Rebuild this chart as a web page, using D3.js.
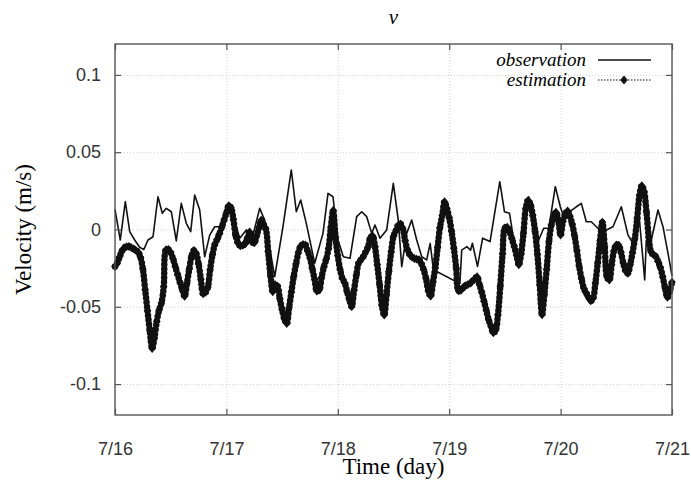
<!DOCTYPE html>
<html>
<head>
  <meta charset="utf-8">
  <title>v</title>
  <script src="https://d3js.org/d3.v7.min.js"></script>
  <style>
    body { margin: 0; background: white; }
  </style>
</head>
<body>
<div id="output"></div>

<script type="text/javascript">

  // x ticks (hours since 7/16 00:00) and their labels
  var xTicks = [0, 24, 48, 72, 96, 120];
  var xTickLabels = ["7/16", "7/17", "7/18", "7/19", "7/20", "7/21"];
  var yTicks = [-0.1, -0.05, 0, 0.05, 0.1];
  var yTickLabels = ["-0.1", "-0.05", "0", "0.05", "0.1"];

  // observation, irregular samples (hours, m/s)
  var obsHour = [0, 1.14, 2.22, 3.17, 4.24, 5.32, 6.2, 7.11, 8.19, 9.26,
    10.19, 11.05, 12.13, 13.2, 14.28, 15.36, 16.31, 17.17, 18.25, 19.32,
    20.4, 21.48, 22.56, 23.63, 24.71, 25.79, 26.87, 28.29, 29.73, 31.17,
    32.25, 34.41, 36.19, 37.98, 39.06, 40.01, 41.21, 43.02, 44.81, 45.89,
    46.96, 48.04, 49.19, 50.63, 52.07, 53.15, 54.23, 55.3, 56.01, 57.09,
    58.53, 59.96, 61.03, 61.77, 62.84, 63.92, 65, 66.08, 67.15, 67.9,
    68.6, 74.3, 74.7, 75.8, 76.6, 77.0, 78.1,
    79.2, 80.8, 82.9, 83.9, 85, 85.9, 86.97, 88.05, 89.13, 90.2,
    91.28, 92.36, 93.44, 94.86, 95.94, 96.67, 97.96, 99.39, 100.47, 101.54,
    102.62, 103.7, 104.77, 105.85, 107.29, 109.08, 110.52, 111.6, 112.68, 114.12,
    114.46, 115.54, 116.98, 118.06, 119.14, 120];
  var obsV = [0.013, -0.0068, 0.018, -0.0014, -0.0068, -0.0115, -0.013, -0.0068, -0.0047, 0.0212,
    0.0105, 0.0137, 0.0115, -0.0074, 0.0169, 0.004, -0.0014, 0.0223, 0.0126, -0.0176,
    -0.0036, 0.0018, 0.0018, 0.0105, 0.0169, 0.005, -0.0057, -0.0003, -0.0036, 0.0137,
    0.0061, -0.0305, 0.0018, 0.0385, 0.0115, 0.0191, 0.004, -0.0218, -0.0025, 0.0234,
    0.0212, -0.0068, -0.0176, -0.0186, 0.0083, 0.0115, 0.0083, -0.0025, 0.0029, -0.0057,
    -0.0003, 0.0299, 0.0061, -0.024, -0.0025, 0.0061, -0.0068, -0.0176, -0.0197, -0.009,
    -0.026, -0.035, -0.0134, -0.0111, -0.0134, -0.0089, -0.0239,
    -0.0056, -0.0078, 0.0309, 0.0115, 0.0105, -0.0068, -0.0218, -0.0003, 0.0212, 0.0126,
    -0.0068, 0.0008, 0.0008, 0.0277, 0.0147, 0.0083, 0.0115, 0.0147, 0.0169, 0.005,
    0.005, 0.0018, -0.0014, -0.0003, 0.0018, 0.0147, -0.0036, -0.0089, 0.0169, -0.0326,
    -0.0068, -0.0068, 0.0126, 0.0018, -0.0154, -0.03];

  // estimation, every 30 min from 7/16 00:00 (m/s)
  var estStep = 0.5;
  var estV = [
    -0.024, -0.0216, -0.0177, -0.0139, -0.0118, -0.0111, -0.011, -0.0117, -0.0125, -0.0135,
    -0.0146, -0.018, -0.0255, -0.039, -0.0525, -0.0655, -0.077, -0.07, -0.0595, -0.052,
    -0.0476, -0.037, -0.013, -0.0129, -0.0149, -0.019, -0.0242, -0.0292, -0.0342, -0.0389,
    -0.0432, -0.0347, -0.0256, -0.0172, -0.0135, -0.0157, -0.0223, -0.0322, -0.0416, -0.0407,
    -0.0373, -0.0258, -0.0164, -0.0098, -0.0064, -0.0028, 0.0015, 0.0061, 0.0106, 0.0155,
    0.014, 0.0066, -0.004, -0.0088, -0.0106, -0.0103, -0.0095, -0.0056, -0.0015, -0.008,
    -0.0087, -0.0041, 0.0009, 0.006, 0.0033, 0.0003, -0.0144, -0.0298, -0.0403, -0.0356,
    -0.0366, -0.0446, -0.0519, -0.058, -0.0608, -0.0506, -0.0405, -0.0304, -0.0222, -0.0151,
    -0.0107, -0.0097, -0.0099, -0.014, -0.0183, -0.0253, -0.0322, -0.0399, -0.0391, -0.0311,
    -0.0243, -0.0193, -0.0124, 0.0012, 0.0123, -0.005, -0.0169, -0.026, -0.0318, -0.0345,
    -0.0403, -0.0455, -0.0499, -0.0393, -0.0295, -0.0215, -0.0195, -0.0175, -0.0145, -0.0115,
    -0.0054, -0.0041, -0.011, -0.0228, -0.0355, -0.0492, -0.0553, -0.042, -0.0271, -0.0144,
    -0.0044, -0.0009, 0.0027, 0.0036, 0.0005, -0.0071, -0.0131, -0.0163, -0.0178, -0.0188,
    -0.0191, -0.0195, -0.022, -0.026, -0.0317, -0.0398, -0.0431, -0.0341, -0.0247, -0.0117,
    0.0013, 0.009, 0.018, 0.0135, 0.0076, -0.0011, -0.0121, -0.0249, -0.0397, -0.0394,
    -0.0375, -0.0364, -0.0356, -0.0349, -0.0334, -0.032, -0.0305, -0.0355, -0.0405, -0.0464,
    -0.0524, -0.0584, -0.0626, -0.0668, -0.0653, -0.0552, -0.0367, -0.0157, 0.001, 0.0015,
    -0.0015, -0.0059, -0.0109, -0.0165, -0.0228, -0.0157, -0.0024, 0.0137, 0.0189, 0.0162,
    0.0092, -0.0014, -0.0158, -0.0356, -0.0552, -0.0421, -0.0257, -0.0076, 0.0029, 0.0082,
    0.0112, 0.006, -0.0036, 0.0053, 0.0098, 0.0121, 0.0086, 0.0036, -0.004, -0.0134,
    -0.0237, -0.0319, -0.038, -0.041, -0.0438, -0.0462, -0.0444, -0.0345, -0.0216, -0.0072,
    0.0047, -0.0111, -0.0308, -0.0327, -0.0226, -0.0137, -0.01, -0.0101, -0.0147, -0.0216,
    -0.0268, -0.0283, -0.0225, -0.0149, -0.0058, 0.0073, 0.0222, 0.0283, 0.0245, 0.0113,
    -0.0051, -0.0147, -0.0163, -0.0174, -0.0207, -0.0246, -0.0305, -0.0379, -0.0439, -0.04,
    -0.034];

  var w = 691;
  var h = 484;
  var margin = {top: 44, right: 19, bottom: 69, left: 115};
  var wChart = w - margin.left - margin.right;
  var hChart = h - margin.top - margin.bottom;

  var x = d3.scaleLinear().domain([0, 120]).range([0, wChart]);
  var y = d3.scaleLinear().domain([-0.12, 0.12]).range([hChart, 0]);

  var svg = d3.select("#output").append("svg")
          .attr("width", w)
          .attr("height", h);

  var chart = svg.append("g")
          .attr("transform", "translate(" + margin.left + "," + margin.top + ")");

  // grid
  chart.append("g")
          .attr("class", "grid")
          .attr("transform", "translate(0," + hChart + ")")
          .call(d3.axisBottom(x).tickValues(xTicks).tickSize(-hChart).tickFormat(""));
  chart.append("g")
          .attr("class", "grid")
          .call(d3.axisLeft(y).tickValues(yTicks).tickSize(-wChart).tickFormat(""));
  chart.selectAll(".grid .domain").remove();
  chart.selectAll(".grid line")
          .attr("stroke", "#c8c8c8")
          .attr("stroke-width", 0.8)
          .attr("stroke-dasharray", "1,2");

  // observation line
  var obs = obsHour.map(function(d, i) { return [d, obsV[i]]; });
  chart.append("path")
          .datum(obs)
          .attr("fill", "none")
          .attr("stroke", "#111")
          .attr("stroke-width", 1.6)
          .attr("stroke-linejoin", "round")
          .attr("d", d3.line()
                  .x(function(d) { return x(d[0]); })
                  .y(function(d) { return y(d[1]); }));

  // estimation: dense chain of points along the curve + diamonds
  var est = estV.map(function(d, i) { return [i * estStep, d]; });
  chart.append("path")
          .datum(est)
          .attr("fill", "none")
          .attr("stroke", "#111")
          .attr("stroke-width", 6.5)
          .attr("stroke-linecap", "round")
          .attr("stroke-dasharray", "0,4.4")
          .attr("d", d3.line()
                  .curve(d3.curveCatmullRom)
                  .x(function(d) { return x(d[0]); })
                  .y(function(d) { return y(d[1]); }));

  var diamond = "M0,-4.4L3.8,0L0,4.4L-3.8,0Z";
  chart.selectAll(".est")
          .data(est)
          .enter()
          .append("path")
          .attr("class", "est")
          .attr("d", diamond)
          .attr("fill", "#111")
          .attr("transform", function(d) {
            return "translate(" + x(d[0]) + "," + y(d[1]) + ")";
          });

  // frame and inward ticks (mirrored on all sides)
  chart.append("rect")
          .attr("width", wChart)
          .attr("height", hChart)
          .attr("fill", "none")
          .attr("stroke", "#555")
          .attr("stroke-width", 1.4);

  var xAxis = d3.axisBottom(x).tickValues(xTicks)
          .tickFormat(function(d, i) { return xTickLabels[i]; })
          .tickSizeInner(-6).tickSizeOuter(0).tickPadding(27);
  var yAxis = d3.axisLeft(y).tickValues(yTicks)
          .tickFormat(function(d, i) { return yTickLabels[i]; })
          .tickSizeInner(-6).tickSizeOuter(0).tickPadding(14);

  chart.append("g")
          .attr("class", "axis")
          .attr("transform", "translate(0," + hChart + ")")
          .call(xAxis);
  chart.append("g")
          .attr("class", "axis")
          .call(yAxis);
  chart.append("g")
          .attr("class", "axis")
          .call(d3.axisTop(x).tickValues(xTicks).tickFormat("").tickSizeInner(-6).tickSizeOuter(0));
  chart.append("g")
          .attr("class", "axis")
          .attr("transform", "translate(" + wChart + ",0)")
          .call(d3.axisRight(y).tickValues(yTicks).tickFormat("").tickSizeInner(-6).tickSizeOuter(0));

  chart.selectAll(".axis .domain").remove();
  chart.selectAll(".axis line").attr("stroke", "#555").attr("stroke-width", 1.2);
  chart.selectAll(".axis text")
          .attr("fill", "#333")
          .style("font-family", "'Liberation Sans', Arial, sans-serif")
          .style("font-size", "18px");

  // titles
  svg.append("text")
          .attr("x", margin.left + wChart / 2)
          .attr("y", 24)
          .attr("text-anchor", "middle")
          .style("font-family", "'Liberation Serif', 'Times New Roman', serif")
          .style("font-style", "italic")
          .style("font-size", "21px")
          .text("v");

  svg.append("text")
          .attr("x", margin.left + wChart / 2)
          .attr("y", 474)
          .attr("text-anchor", "middle")
          .style("font-family", "'Liberation Serif', 'Times New Roman', serif")
          .style("font-size", "23px")
          .text("Time (day)");

  svg.append("text")
          .attr("transform", "translate(31," + (margin.top + hChart / 2) + ") rotate(-90)")
          .attr("text-anchor", "middle")
          .style("font-family", "'Liberation Serif', 'Times New Roman', serif")
          .style("font-size", "23px")
          .text("Velocity (m/s)");

  // legend
  var legend = svg.append("g");
  legend.append("text")
          .attr("x", 586).attr("y", 66)
          .attr("text-anchor", "end")
          .style("font-family", "'Liberation Serif', 'Times New Roman', serif")
          .style("font-style", "italic")
          .style("font-size", "19px")
          .text("observation");
  legend.append("line")
          .attr("x1", 598).attr("x2", 651).attr("y1", 60).attr("y2", 60)
          .attr("stroke", "#111").attr("stroke-width", 1.6);
  legend.append("text")
          .attr("x", 586).attr("y", 86)
          .attr("text-anchor", "end")
          .style("font-family", "'Liberation Serif', 'Times New Roman', serif")
          .style("font-style", "italic")
          .style("font-size", "19px")
          .text("estimation");
  legend.append("line")
          .attr("x1", 598).attr("x2", 651).attr("y1", 80).attr("y2", 80)
          .attr("stroke", "#111").attr("stroke-width", 1.2)
          .attr("stroke-dasharray", "1.5,1.5");
  legend.append("path")
          .attr("d", diamond)
          .attr("fill", "#111")
          .attr("transform", "translate(624,80)");

</script>
</body>
</html>
